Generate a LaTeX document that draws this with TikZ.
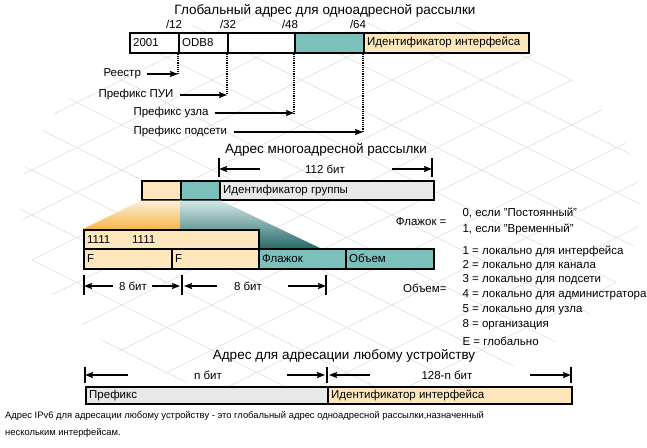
\documentclass[tikz,border=0pt]{standalone}
\usepackage{fontspec}
\setmainfont{Liberation Sans}
\usepackage{tikz}
\usetikzlibrary{arrows.meta,positioning,calc}
\definecolor{Peach}{HTML}{FDE6BC}
\definecolor{Teal}{HTML}{7CC0BC}
\definecolor{DarkTeal}{HTML}{2A6B6A}
\definecolor{Amber}{HTML}{F6B64B}
\definecolor{CellGray}{HTML}{E8E8E8}
\newcommand{\qt}{\symbol{34}}
\tikzset{
  cell/.style={draw,line width=1.5pt,anchor=north west,inner sep=0pt},
  celltext/.style={anchor=west,inner sep=4pt},
  title/.style={font=\fontsize{13.5}{15}\selectfont},
  arr/.style={-{Stealth[length=8pt,width=6pt,inset=1pt]},line width=1.3pt},
  dimtick/.style={line width=1.4pt},
  dots/.style={densely dotted,line width=1.2pt},
  gridline/.style={black!12,line width=0.6pt}
}

\begin{document}
\begin{tikzpicture}[x=1pt,y=-1pt,font=\fontsize{11.5}{13}\selectfont]
\useasboundingbox (0,0) rectangle (647,447);
\begin{scope}
\clip (330,205) ellipse [x radius=310pt, y radius=200pt];
\foreach \k in {-8,...,9}
  \draw[gridline] (0,19.2+45*\k) -- (647,342.7+45*\k);
\foreach \k in {0,...,17}
  \draw[gridline] (0,5.8+45*\k) -- (647,-317.7+45*\k);
\end{scope}

\node[title] (uniTitle) at (325,11) {Глобальный адрес для одноадресной рассылки};
\node[cell,fill=white,minimum width=49,minimum height=20] (c2001) at (129,32) {};
\node[cell,fill=white,minimum width=49,minimum height=20] (cODB8) at (178,32) {};
\node[cell,fill=white,minimum width=67,minimum height=20] (cSite) at (227,32) {};
\node[cell,fill=Teal,minimum width=69,minimum height=20] (cSubnet) at (294,32) {};
\node[cell,fill=Peach,minimum width=165,minimum height=20] (cIface) at (363,32) {};
\node[celltext] (t2001) at (c2001.west) {2001};
\node[celltext] (tODB8) at (cODB8.west) {ODB8};
\node[celltext] (tIface) at (cIface.west) {Идентификатор интерфейса};
\node[anchor=base,inner sep=1pt] (l12) at (174,28) {/12};
\node[anchor=base,inner sep=1pt] (l32) at (228,28) {/32};
\node[anchor=base,inner sep=1pt] (l48) at (290,28) {/48};
\node[anchor=base,inner sep=1pt] (l64) at (358,28) {/64};

\coordinate (e12) at (178,74);
\coordinate (e32) at (227,95);
\coordinate (e48) at (294,113);
\coordinate (e64) at (363,132);
\draw[dots] (cODB8.south west) -- (e12);
\draw[dots] (cSite.south west) -- (e32);
\draw[dots] (cSubnet.south west) -- (e48);
\draw[dots] (cIface.south west) -- (e64);
\node[anchor=west] (reestr) at (100,74) {Реестр};
\node[anchor=west] (pui) at (95,95) {Префикс ПУИ};
\node[anchor=west] (site) at (130,113) {Префикс узла};
\node[anchor=west] (subnet) at (130,132) {Префикс подсети};
\draw[arr,shorten <=3pt] (reestr) -- (e12);
\draw[arr,shorten <=3pt] (pui) -- (e32);
\draw[arr,shorten <=3pt] (site) -- (e48);
\draw[arr,shorten <=3pt] (subnet) -- (e64);

\node[title] (multiTitle) at (326,150) {Адрес многоадресной рассылки};
\coordinate (g0) at (219,169);
\coordinate (g1) at (432,169);
\draw[dimtick] ([yshift=11pt]g0) -- ([yshift=-8pt]g0);
\draw[dimtick] ([yshift=11pt]g1) -- ([yshift=-8pt]g1);
\node (w112) at (325,169) {112 бит};
\coordinate (g0tail) at (260,169);
\coordinate (g1tail) at (392,169);
\draw[arr] (g0tail) -- (g0);
\draw[arr] (g1tail) -- (g1);

\node[cell,fill=Peach,minimum width=39,minimum height=19] (mFF) at (141,180) {};
\node[cell,fill=Teal,minimum width=39,minimum height=19] (mFlags) at (180,180) {};
\node[cell,fill=CellGray,minimum width=214,minimum height=19] (mGroup) at (219,180) {};
\node[celltext] (tGroup) at (mGroup.west) {Идентификатор группы};

\shade[top color=Peach!60,bottom color=Amber] (mFF.south west) -- (mFF.south east) -- (180,229) -- (83,229) -- cycle;
\shade[top color=Teal!35!white,bottom color=DarkTeal] (mFlags.south west) -- (mFlags.south east) -- (320,248) -- (180,248) -- cycle;

\node[cell,fill=Peach,minimum width=175,minimum height=19] (rOnes) at (83,229) {};
\node[celltext] (tOnesA) at (rOnes.west) {1111};
\node[celltext] (tOnesB) at (rOnes.west -| 128,0) {1111};
\node[cell,fill=Peach,minimum width=88,minimum height=20] (rF1) at (83,248) {};
\node[cell,fill=Peach,minimum width=87,minimum height=20] (rF2) at (171,248) {};
\node[cell,fill=Teal,minimum width=87,minimum height=20] (rFlag) at (258,248) {};
\node[cell,fill=Teal,minimum width=88,minimum height=20] (rScope) at (345,248) {};
\node[celltext] (tF1) at (rF1.west) {F};
\node[celltext] (tF2) at (rF2.west) {F};
\node[celltext] (tFlag) at (rFlag.west) {Флажок};
\node[celltext] (tScope) at (rScope.west) {Объем};

\coordinate (k0) at (84,286);
\coordinate (k1) at (182,286);
\coordinate (k2) at (326,286);
\foreach \p in {k0,k1,k2}
  \draw[dimtick] ([yshift=11pt]\p) -- ([yshift=-9pt]\p);
\node (w8a) at (133,286) {8 бит};
\node (w8b) at (248,286) {8 бит};
\coordinate (k0tail) at (113,286);
\coordinate (k1tailL) at (152,286);
\coordinate (k1tailR) at (217,286);
\coordinate (k2tail) at (288,286);
\draw[arr] (k0tail) -- (k0);
\draw[arr,shorten >=2pt] (k1tailL) -- (k1);
\draw[arr,shorten >=2pt] (k1tailR) -- (k1);
\draw[arr] (k2tail) -- (k2);

\node[anchor=east] (flagEq) at (450,222) {Флажок =};
\node[anchor=west] (perm) at (459,213) {0, если \qt Постоянный\qt};
\node[anchor=west] (temp) at (459,229) {1, если \qt Временный\qt};
\node[anchor=east] (scopeEq) at (450,288) {Объем=};
\node[anchor=west] (s1) at (459,251) {1 = локально для интерфейса};
\node[anchor=west] (s2) at (459,266) {2 = локально для канала};
\node[anchor=west] (s3) at (459,280) {3 = локально для подсети};
\node[anchor=west] (s4) at (459,295) {4 = локально для администратора};
\node[anchor=west] (s5) at (459,310) {5 = локально для узла};
\node[anchor=west] (s8) at (459,325) {8 = организация};
\node[anchor=west] (sE) at (459,341) {E = глобально};

\node[title] (anyTitle) at (344,356) {Адрес для адресации любому устройству};
\coordinate (n0) at (85,375);
\coordinate (n1) at (327,375);
\coordinate (n2) at (571,375);
\foreach \p in {n0,n1,n2}
  \draw[dimtick] ([yshift=8pt]\p) -- ([yshift=-8pt]\p);
\node (wn) at (208,375) {n бит};
\node (w128) at (447,375) {128-n бит};
\coordinate (n0tail) at (128,375);
\coordinate (n1tailL) at (287,375);
\coordinate (n1tailR) at (370,375);
\coordinate (n2tail) at (530,375);
\draw[arr] (n0tail) -- (n0);
\draw[arr,shorten >=2pt] (n1tailL) -- (n1);
\draw[arr,shorten >=2pt] (n1tailR) -- (n1);
\draw[arr] (n2tail) -- (n2);
\node[cell,fill=CellGray,minimum width=242,minimum height=17] (aPrefix) at (85,386) {};
\node[cell,fill=Peach,minimum width=244,minimum height=17] (aIface) at (327,386) {};
\node[celltext] (tPrefix) at (aPrefix.west) {Префикс};
\node[celltext] (tIface2) at (aIface.west) {Идентификатор интерфейса};

\node[anchor=north west,align=left,inner sep=0pt,font=\fontsize{9.4}{17}\selectfont] (note) at (5,411)
  {Адрес IPv6 для адресации любому устройству - это глобальный адрес одноадресной рассылки,назначенный\\нескольким интерфейсам.};
\end{tikzpicture}
\end{document}
